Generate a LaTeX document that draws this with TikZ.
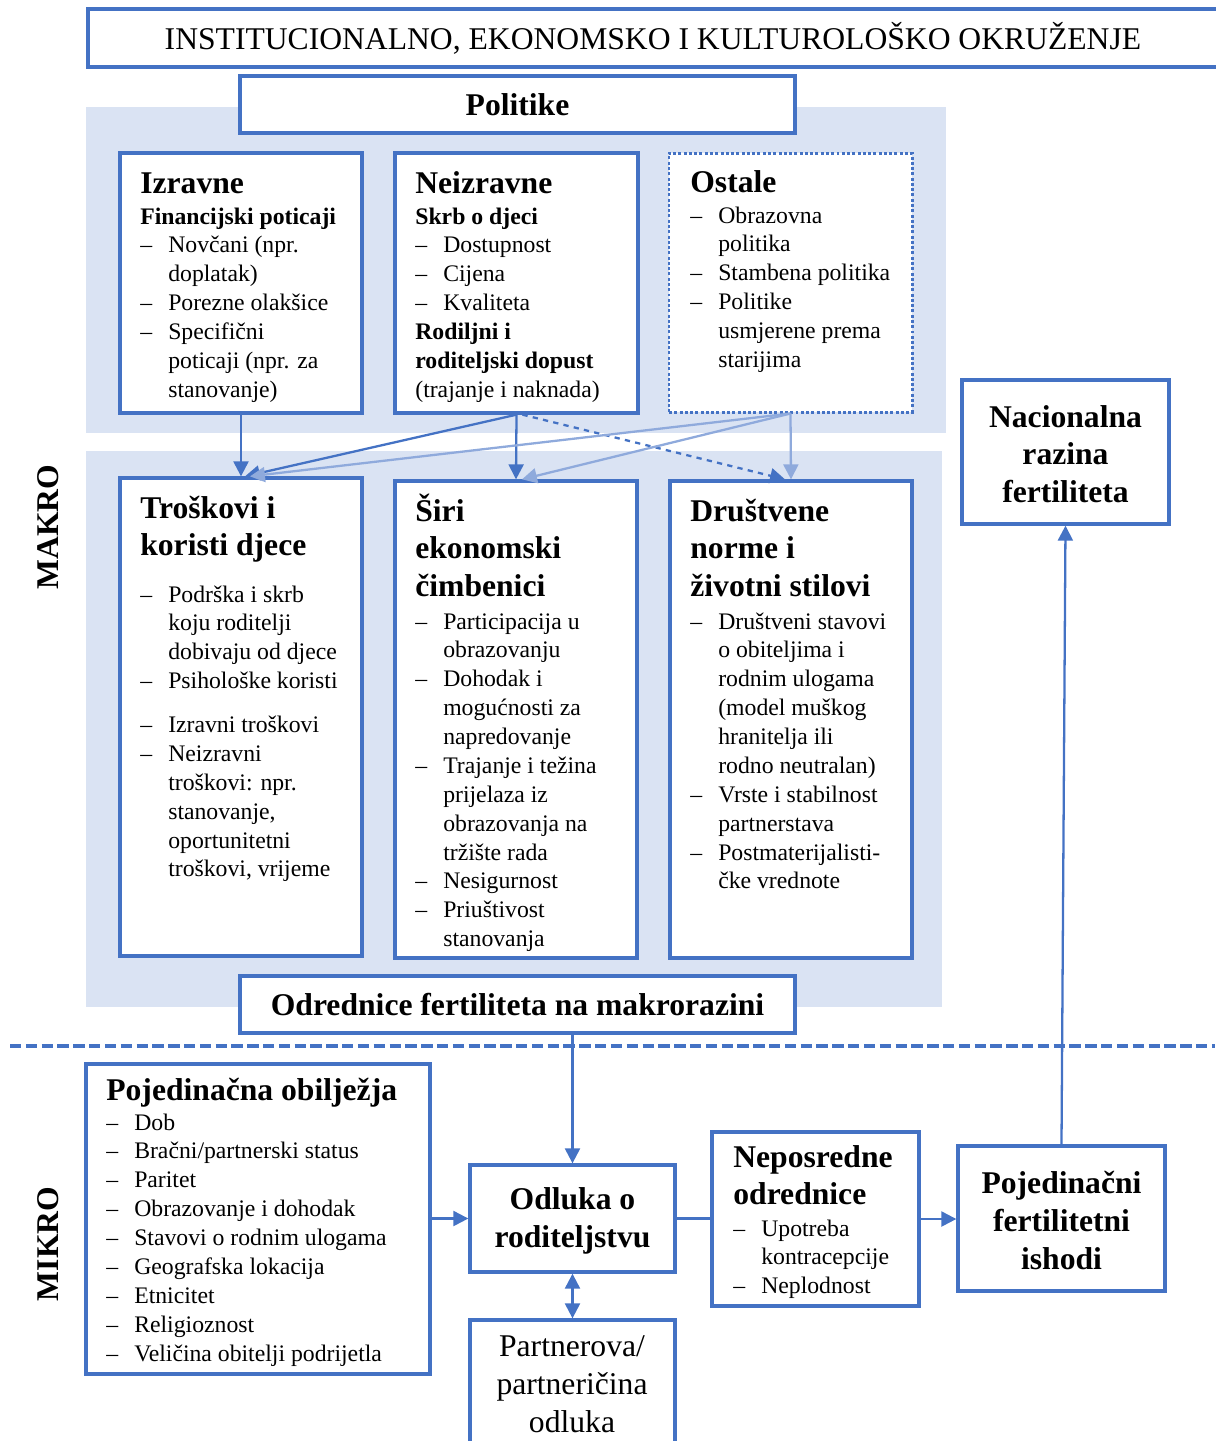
\documentclass[tikz,border=0pt]{standalone}
\usepackage{fontspec}
\setmainfont{Liberation Serif}
\usepackage{tikz}
\usetikzlibrary{arrows.meta,positioning,fit,backgrounds,calc}
\definecolor{cLine}{HTML}{4472C4}
\definecolor{cPanel}{HTML}{DAE3F3}
\definecolor{cSoft}{HTML}{8FAADC}
\newcommand{\hdfont}{\fontsize{18}{21.5}\selectfont\bfseries}
\newcommand{\txtfont}{\fontsize{13.5}{16.44}\selectfont}
\newlength{\dashw}
\setlength{\dashw}{15.9pt}
\newcommand{\itm}[1]{\par\hangindent=\dashw\hangafter=1\noindent\makebox[\dashw][l]{\textendash}#1}
\newcommand{\sub}[1]{\par\noindent\textbf{#1}}
\newcommand{\blk}[1]{\parbox[t]{230pt}{#1}}
\tikzset{
  frame/.style={draw=cLine, line width=1.9pt, fill=white, inner sep=0pt},
  dotframe/.style={frame, line width=1.7pt, dash pattern=on 1.7pt off 1.3pt},
  panel/.style={fill=cPanel, inner sep=0pt},
  ctr/.style={inner sep=0pt, align=center, font=\hdfont},
  hd/.style={anchor=base west, inner sep=0pt, font=\hdfont},
  lst/.style={anchor=base west, inner sep=0pt, font=\txtfont},
  link/.style={-{Triangle[length=8.5pt,width=8.5pt]}, line width=1.3pt, draw=cLine},
  softlink/.style={link, draw=cSoft},
  plain/.style={line width=1.3pt, draw=cLine},
}

\begin{document}
\begin{tikzpicture}[x=0.02cm, y=-0.02cm]
  \useasboundingbox (0,0) rectangle (1215,1441);

  % environment and policies
  \node[frame, fit={(88,9) (1218,67)}] (env) {};
  \node[ctr, font=\fontsize{18}{21.5}\selectfont] (envT) at (env.center)
    {INSTITUCIONALNO, EKONOMSKO I KULTUROLOŠKO OKRUŽENJE};
  \node[frame, fit={(240,76) (795,133)}] (pol) {};
  \node[ctr] (polT) at (pol.center) {Politike};

  \begin{scope}[on background layer]
    \node[panel, fit={(86,107) (946,433)}] (polPanel) {};
    \node[panel, fit={(86,451) (942,1007)}] (detPanel) {};
  \end{scope}

  % policy boxes
  \node[frame, fit={(120,153) (362,413)}] (izr) {};
  \node[frame, fit={(395,153) (638,413)}] (nei) {};
  \node[dotframe, fit={(669,153) (912,412)}] (ost) {};

  \node[hd] (izrH) at (140,193) {\blk{Izravne}};
  \node[lst] (izrL) at (140,224) {\blk{%
    \sub{Financijski poticaji}
    \itm{Novčani (npr.\newline doplatak)}
    \itm{Porezne olakšice}
    \itm{Specifični\newline poticaji (npr. za\newline stanovanje)}}};

  \node[hd] (neiH) at (415,193) {\blk{Neizravne}};
  \node[lst] (neiL) at (415,224) {\blk{%
    \sub{Skrb o djeci}
    \itm{Dostupnost}
    \itm{Cijena}
    \itm{Kvaliteta}
    \sub{Rodiljni i\newline roditeljski dopust}
    \par\noindent(trajanje i naknada)}};

  \node[hd] (ostH) at (690,192) {\blk{Ostale}};
  \node[lst] (ostL) at (690,223) {\blk{%
    \itm{Obrazovna\newline politika}
    \itm{Stambena politika}
    \itm{Politike\newline usmjerene prema\newline starijima}}};

  % macro determinants
  \node[frame, fit={(120,478) (362,956)}] (tro) {};
  \node[frame, fit={(395,481) (637,958)}] (shi) {};
  \node[frame, fit={(670,481) (912,958)}] (dru) {};

  \node[hd] (troH) at (140,518) {\blk{Troškovi i\\koristi djece}};
  \node[lst] (troL) at (140,602) {\blk{%
    \itm{Podrška i skrb\newline koju roditelji\newline dobivaju od djece}
    \itm{Psihološke koristi}
    \par\vspace{8.5pt}
    \itm{Izravni troškovi}
    \itm{Neizravni\newline troškovi: npr.\newline stanovanje,\newline oportunitetni\newline troškovi, vrijeme}}};

  \node[hd] (shiH) at (415,521) {\blk{Širi\\ekonomski\\čimbenici}};
  \node[lst] (shiL) at (415,629) {\blk{%
    \itm{Participacija u\newline obrazovanju}
    \itm{Dohodak i\newline mogućnosti za\newline napredovanje}
    \itm{Trajanje i težina\newline prijelaza iz\newline obrazovanja na\newline tržište rada}
    \itm{Nesigurnost}
    \itm{Priuštivost\newline stanovanja}}};

  \node[hd] (druH) at (690,521) {\blk{Društvene\\norme i\\životni stilovi}};
  \node[lst] (druL) at (690,629) {\blk{%
    \itm{Društveni stavovi\newline o obiteljima i\newline rodnim ulogama\newline (model muškog\newline hranitelja ili\newline rodno neutralan)}
    \itm{Vrste i stabilnost\newline partnerstava}
    \itm{Postmaterijalisti-\newline čke vrednote}}};

  \node[frame, fit={(240,976) (795,1033)}] (odr) {};
  \node[ctr] (odrT) at (odr.center) {Odrednice fertiliteta na makrorazini};
  \node[frame, fit={(962,380) (1169,524)}] (nac) {};
  \node[ctr] (nacT) at ($(nac.center)+(0,2)$) {Nacionalna\\razina\\fertiliteta};

  % level labels and separator
  \node[rotate=90, font=\hdfont] (makro) at (48,527) {MAKRO};
  \node[rotate=90, font=\hdfont] (mikro) at (48,1244) {MIKRO};
  \coordinate (sepL) at (10,1046);
  \coordinate (sepR) at (1215,1046);
  \draw[cLine, line width=2pt, dash pattern=on 6.5pt off 2.5pt] (sepL) -- (sepR);

  % micro level
  \node[frame, fit={(86,1064) (430,1374)}] (poj) {};
  \node[hd] (pojH) at (106,1100) {\blk{Pojedinačna obilježja}};
  \node[lst] (pojL) at (106,1130) {\blk{%
    \itm{Dob}
    \itm{Bračni/partnerski status}
    \itm{Paritet}
    \itm{Obrazovanje i dohodak}
    \itm{Stavovi o rodnim ulogama}
    \itm{Geografska lokacija}
    \itm{Etnicitet}
    \itm{Religioznost}
    \itm{Veličina obitelji podrijetla}}};

  \node[frame, fit={(470,1165) (675,1272)}] (odl) {};
  \node[ctr] (odlT) at ($(odl.center)+(0,2)$) {Odluka o\\roditeljstvu};
  \node[frame, fit={(470,1320) (675,1460)}] (par) {};
  \node[ctr, font=\fontsize{18}{21.5}\selectfont] (parT) at (572,1384)
    {Partnerova/\\partneričina\\odluka};

  \node[frame, fit={(712,1132) (919,1306)}] (nep) {};
  \node[hd] (nepH) at (733,1167) {\blk{Neposredne\\odrednice}};
  \node[lst] (nepL) at (733,1236) {\blk{%
    \itm{Upotreba\newline kontracepcije}
    \itm{Neplodnost}}};

  \node[frame, fit={(958,1146) (1165,1291)}] (ish) {};
  \node[ctr] (ishT) at ($(ish.center)+(0,2)$) {Pojedinačni\\fertilitetni\\ishodi};

  % policy effects
  \draw[link] (izr.south) -- (tro.north);
  \draw[link] (nei.south) -- ($(tro.north)+(4,0)$);
  \draw[link] (nei.south) -- (shi.north);
  \draw[link, dashed] ($(nei.south)+(6,0)$) -- ($(dru.north)+(-6,0)$);
  \draw[softlink] (ost.south) -- ($(tro.north)+(9,0)$);
  \draw[softlink] (ost.south) -- ($(shi.north)+(6,0)$);
  \draw[softlink] (ost.south) -- (dru.north);

  % micro flow
  \draw[link] (odr.south -| odl.north) -- (odl.north);
  \draw[link] (odl.west -| poj.east) -- (odl.west);
  \draw[plain] (odl.east) -- (odl.east -| nep.west);
  \draw[link] (nep.east) -- (nep.east -| ish.west);
  \draw[link] (ish.north) -- (nac.south);
  \draw[link, {Triangle[length=8.5pt,width=8.5pt]}-{Triangle[length=8.5pt,width=8.5pt]}] (odl.south) -- (par.north);
\end{tikzpicture}
\end{document}
